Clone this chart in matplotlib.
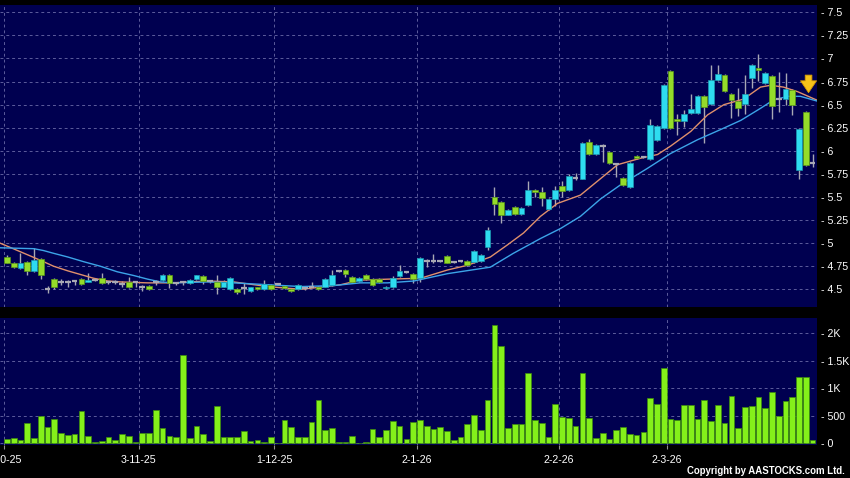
import matplotlib
matplotlib.use('Agg')
import matplotlib.pyplot as plt
import numpy as np

plt.rcParams['font.family'] = ['Liberation Sans', 'DejaVu Sans']

# daily candles, one entry per trading day (bar index = list position)
opens = [4.85, 4.79, 4.73, 4.80, 4.70, 4.83, 4.50, 4.61, 4.58, 4.575,
         4.59, 4.61, 4.58, 4.60, 4.62, 4.58, 4.58, 4.56, 4.58, 4.575,
         4.53, 4.54, 4.58, 4.60, 4.66, 4.57, 4.575, 4.57, 4.61, 4.64,
         4.59, 4.58, 4.53, 4.50, 4.50, 4.51, 4.48, 4.52, 4.50, 4.55,
         4.56, 4.535, 4.50, 4.50, 4.51, 4.53, 4.53, 4.53, 4.55, 4.70,
         4.71, 4.63, 4.59, 4.66, 4.61, 4.61, 4.51, 4.52, 4.64, 4.69,
         4.67, 4.62, 4.81, 4.81, 4.81, 4.86, 4.80, 4.81, 4.81, 4.80,
         4.81, 4.96, 5.50, 5.45, 5.31, 5.39, 5.32, 5.41, 5.58, 5.55,
         5.37, 5.48, 5.62, 5.58, 5.71, 5.70, 6.10, 5.97, 6.05, 5.99,
         5.86, 5.71, 5.61, 5.94, 5.93, 5.91, 6.12, 6.25, 6.86, 6.35,
         6.32, 6.41, 6.41, 6.59, 6.51, 6.77, 6.82, 6.62, 6.54, 6.51,
         6.79, 6.90, 6.73, 6.81, 6.56, 6.56, 6.66, 5.79, 6.42, 5.87]
closes = [4.79, 4.74, 4.78, 4.70, 4.82, 4.66, 4.50, 4.53, 4.58, 4.575,
          4.59, 4.56, 4.605, 4.60, 4.57, 4.58, 4.58, 4.56, 4.52, 4.575,
          4.53, 4.50, 4.58, 4.66, 4.57, 4.57, 4.575, 4.60, 4.65, 4.59,
          4.59, 4.53, 4.58, 4.62, 4.47, 4.51, 4.52, 4.50, 4.56, 4.50,
          4.56, 4.515, 4.48, 4.55, 4.51, 4.53, 4.50, 4.61, 4.66, 4.70,
          4.67, 4.58, 4.62, 4.61, 4.55, 4.58, 4.53, 4.62, 4.70, 4.69,
          4.61, 4.84, 4.81, 4.81, 4.81, 4.79, 4.80, 4.81, 4.76, 4.91,
          4.87, 5.14, 5.42, 5.31, 5.36, 5.32, 5.38, 5.58, 5.55, 5.49,
          5.48, 5.58, 5.56, 5.73, 5.71, 6.09, 5.97, 6.06, 6.05, 5.87,
          5.86, 5.63, 5.87, 5.92, 5.93, 6.28, 6.27, 6.71, 6.25, 6.32,
          6.40, 6.45, 6.59, 6.47, 6.77, 6.83, 6.65, 6.55, 6.46, 6.62,
          6.93, 6.88, 6.84, 6.49, 6.56, 6.67, 6.50, 6.24, 5.85, 5.87]
highs = [4.87, 4.80, 4.89, 4.81, 4.95, 4.84, 4.54, 4.62, 4.61, 4.60,
         4.60, 4.62, 4.68, 4.62, 4.68, 4.59, 4.60, 4.59, 4.63, 4.59,
         4.55, 4.55, 4.60, 4.67, 4.67, 4.58, 4.59, 4.61, 4.66, 4.65,
         4.60, 4.66, 4.60, 4.63, 4.51, 4.57, 4.53, 4.53, 4.60, 4.56,
         4.57, 4.55, 4.51, 4.56, 4.53, 4.58, 4.54, 4.62, 4.71, 4.71,
         4.72, 4.64, 4.63, 4.67, 4.62, 4.62, 4.54, 4.64, 4.76, 4.70,
         4.68, 4.85, 4.83, 4.88, 4.82, 4.87, 4.81, 4.82, 4.82, 4.93,
         4.88, 5.17, 5.61, 5.46, 5.37, 5.40, 5.39, 5.67, 5.59, 5.61,
         5.49, 5.62, 5.67, 5.75, 5.76, 6.10, 6.13, 6.07, 6.07, 6.00,
         5.87, 5.72, 5.88, 5.95, 5.94, 6.35, 6.28, 6.72, 6.87, 6.40,
         6.44, 6.61, 6.60, 6.60, 6.93, 6.93, 6.83, 6.63, 6.68, 6.82,
         6.94, 7.05, 6.85, 6.82, 6.85, 6.84, 6.67, 6.25, 6.43, 5.97]
lows = [4.78, 4.73, 4.72, 4.66, 4.69, 4.61, 4.46, 4.50, 4.55, 4.53,
        4.55, 4.55, 4.58, 4.59, 4.56, 4.56, 4.56, 4.52, 4.51, 4.52,
        4.48, 4.49, 4.55, 4.59, 4.51, 4.55, 4.55, 4.56, 4.60, 4.56,
        4.57, 4.45, 4.52, 4.49, 4.45, 4.45, 4.47, 4.49, 4.49, 4.49,
        4.55, 4.50, 4.47, 4.49, 4.49, 4.52, 4.49, 4.52, 4.54, 4.69,
        4.63, 4.57, 4.58, 4.60, 4.54, 4.57, 4.50, 4.51, 4.63, 4.68,
        4.57, 4.58, 4.74, 4.78, 4.80, 4.78, 4.78, 4.80, 4.75, 4.79,
        4.80, 4.93, 5.31, 5.22, 5.30, 5.31, 5.31, 5.40, 5.50, 5.40,
        5.36, 5.40, 5.50, 5.57, 5.68, 5.69, 5.96, 5.96, 5.88, 5.86,
        5.72, 5.62, 5.60, 5.91, 5.92, 5.90, 6.11, 6.24, 6.24, 6.17,
        6.26, 6.40, 6.40, 6.09, 6.50, 6.76, 6.64, 6.36, 6.38, 6.40,
        6.68, 6.76, 6.72, 6.35, 6.42, 6.50, 6.39, 5.70, 5.84, 5.82]
volumes = [73, 91, 61, 358, 91, 497, 297, 436, 182, 139,
           158, 576, 127, 18, 36, 109, 61, 164, 121, 24,
           182, 188, 600, 267, 127, 115, 1600, 97, 303, 164,
           36, 673, 103, 103, 115, 224, 36, 61, 24, 109,
           6, 418, 285, 103, 103, 388, 782, 230, 279, 24,
           24, 127, 6, 24, 248, 109, 236, 406, 303, 73,
           376, 418, 315, 255, 291, 224, 61, 103, 345, 515,
           230, 782, 2151, 1770, 267, 339, 345, 1273, 418, 358,
           109, 703, 467, 449, 303, 1273, 449, 91, 176, 73,
           236, 297, 164, 152, 194, 812, 703, 1364, 436, 412,
           685, 685, 436, 782, 406, 691, 358, 861, 273, 661,
           679, 842, 630, 921, 497, 770, 836, 1206, 1212, 55]

# moving averages (orange = short, blue = long)
ma_short_idx = [-1, 3.5, 5.4, 6.9, 9, 10.9, 12.8, 14.9, 16.8, 20.8, 24.6,
                29.6, 33.5, 38.5, 43.4, 45.9, 49.3, 52.2, 56.2, 61.1, 65.1,
                68, 71.4, 73.9, 76.3, 78.8, 81.3, 84.7, 87.7, 90.2, 93.6,
                96.1, 98, 101, 103.5, 105.9, 108.8, 111.3, 112.8, 114.7,
                116.8, 119.6]
ma_short = [5.00, 4.86, 4.80, 4.75, 4.70, 4.66, 4.62, 4.59, 4.58, 4.57, 4.57,
            4.59, 4.58, 4.53, 4.50, 4.52, 4.55, 4.60, 4.61, 4.62, 4.71,
            4.76, 4.85, 4.98, 5.11, 5.29, 5.43, 5.52, 5.70, 5.85, 5.92,
            5.96, 6.05, 6.21, 6.39, 6.50, 6.56, 6.69, 6.71, 6.69,
            6.64, 6.55]
ma_long_idx = [-1, 4, 5.4, 6.9, 9, 11.3, 13.8, 16.3, 18.7, 20.8, 22.7, 24.6,
               29.6, 33.5, 38.5, 43.4, 48.2, 52.2, 56.2, 60.1, 65.1, 71.4,
               74.8, 78.8, 81.8, 84.7, 87.7, 90.6, 94.6, 98, 102, 105.4,
               108.4, 111.3, 113.2, 115.3, 117.2, 119.6]
ma_long = [4.95, 4.94, 4.92, 4.89, 4.85, 4.80, 4.75, 4.69, 4.65, 4.61, 4.58, 4.57,
           4.58, 4.57, 4.55, 4.53, 4.54, 4.57, 4.57, 4.59, 4.67, 4.74,
           4.89, 5.05, 5.16, 5.29, 5.48, 5.63, 5.81, 5.97, 6.12, 6.23,
           6.33, 6.46, 6.55, 6.59, 6.59, 6.54]

date_idx = [0, 20, 40, 61, 82, 98]
date_labels = ['2-10-25', '3-11-25', '1-12-25', '2-1-26', '2-2-26', '2-3-26']
price_ticks = [4.5, 4.75, 5, 5.25, 5.5, 5.75, 6, 6.25, 6.5, 6.75, 7, 7.25, 7.5]
price_labels = ['4.5', '4.75', '5', '5.25', '5.5', '5.75', '6', '6.25',
                '6.5', '6.75', '7', '7.25', '7.5']
vol_ticks = [0, 500, 1000, 1500, 2000]
vol_labels = ['0', '500', '1K', '1.5K', '2K']

bg = '#000050'
grid_col = '#5c5c9c'
cyan = '#2edcf0'
green = '#94dc2a'
wick = '#a8a8b4'

fig = plt.figure(figsize=(8.5, 4.78), dpi=100, facecolor='black')
ax = fig.add_axes([0, 0.3584, 0.9608, 0.6311], facecolor=bg)
axv = fig.add_axes([0, 0.0690, 0.9608, 0.2651], facecolor=bg, sharex=ax)

x = np.arange(len(opens))
o = np.array(opens)
c = np.array(closes)
up = c > o
down = c < o
flat = c == o
body = np.maximum(np.abs(c - o), 0.012)
bottom = np.minimum(o, c)

# price panel
ax.vlines(x, lows, highs, color=wick, lw=1, zorder=2)
ax.plot(ma_short_idx, ma_short, color='#e0906c', lw=1, zorder=2.5)
ax.plot(ma_long_idx, ma_long, color='#3ca4e8', lw=1, zorder=2.5)
ax.bar(x[up], body[up], bottom=bottom[up], width=0.84, color=cyan,
       edgecolor='#1a98b0', linewidth=0.5, zorder=3)
ax.bar(x[down], body[down], bottom=bottom[down], width=0.84, color=green,
       edgecolor='#5a9a18', linewidth=0.5, zorder=3)
ax.hlines(c[flat], x[flat] - 0.42, x[flat] + 0.42, color=wick, lw=1.6, zorder=3)

ax.annotate('', xy=(118.4, 6.60), xytext=(118.4, 6.85),
            arrowprops=dict(arrowstyle='simple,head_length=0.85,head_width=1.15,tail_width=0.48',
                            mutation_scale=10, fc='#f5c21a', ec='#d89a00', lw=0.6),
            zorder=5)

ax.set_xlim(-1.02, 119.6)
ax.set_ylim(4.312, 7.579)
ax.set_xticks([i - 0.5 for i in date_idx])
ax.set_yticks(price_ticks)
ax.set_yticklabels(['- ' + s for s in price_labels])
ax.yaxis.tick_right()
ax.tick_params(axis='y', length=0, pad=3, labelcolor='white', labelsize=7.7)
ax.tick_params(axis='x', length=0, labelbottom=False)
ax.grid(True, color=grid_col, linestyle=(0, (3, 3)), lw=0.7)
ax.set_axisbelow(True)

# volume panel
axv.bar(x, volumes, width=0.84, color='#84f01a', edgecolor='#3c8c0c',
        linewidth=0.5, zorder=3)
axv.set_ylim(-36, 2273)
axv.set_yticks(vol_ticks)
axv.set_yticklabels(['- ' + s for s in vol_labels])
axv.yaxis.tick_right()
axv.tick_params(axis='y', length=0, pad=3, labelcolor='white', labelsize=7.7)
axv.set_xticks([i - 0.5 for i in date_idx])
axv.set_xticklabels(date_labels)
axv.tick_params(axis='x', length=3, width=0.8, color='#909090', pad=4,
                labelcolor='white', labelsize=7.7)
axv.grid(True, color=grid_col, linestyle=(0, (3, 3)), lw=0.7)
axv.set_axisbelow(True)

for a in (ax, axv):
    for s in a.spines.values():
        s.set_visible(False)

fig.text(0.994, 0.0084, 'Copyright by AASTOCKS.com Ltd.', color='white',
         fontsize=6.9, fontweight='bold', ha='right', va='baseline')

fig.savefig('out.png', dpi=100, facecolor='black')
